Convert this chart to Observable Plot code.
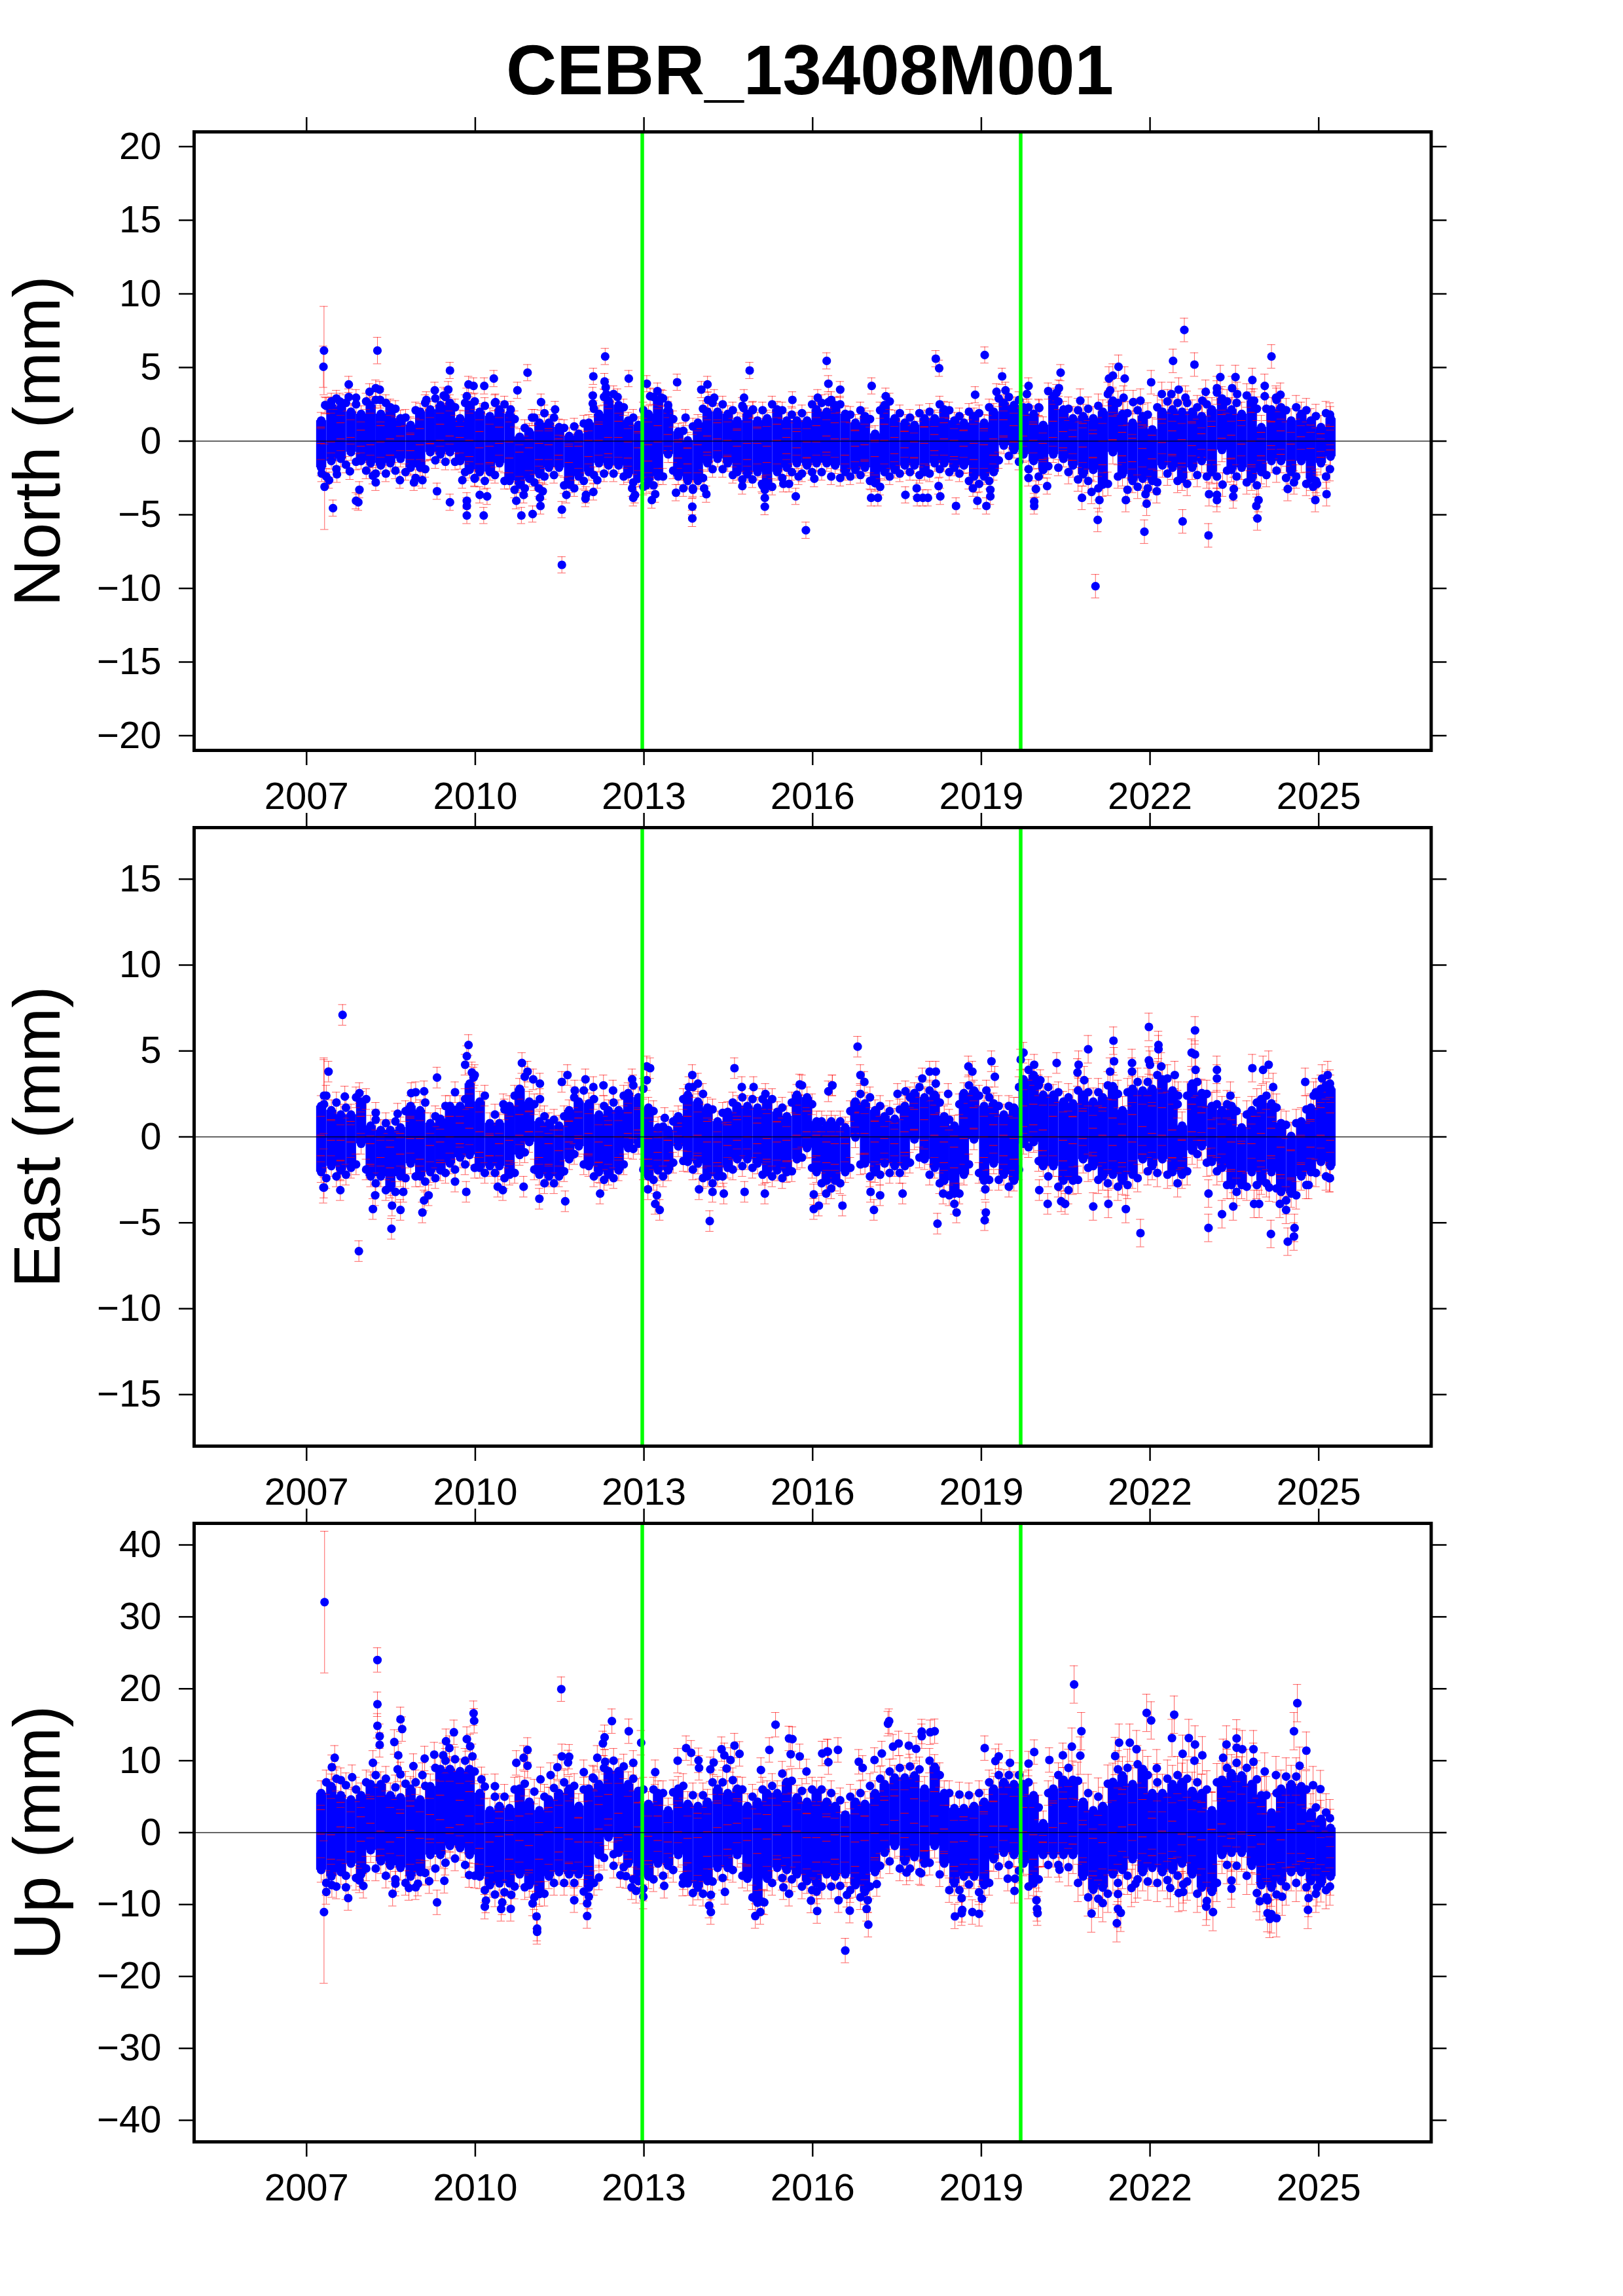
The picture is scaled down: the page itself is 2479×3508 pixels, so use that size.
<!DOCTYPE html>
<html><head><meta charset="utf-8">
<script src="https://cdn.jsdelivr.net/npm/d3@7"></script>
<script src="https://cdn.jsdelivr.net/npm/@observablehq/plot@0.6"></script>
<style>
html,body{margin:0;padding:0;background:#fff}
#page{position:relative;width:2479px;height:3508px;overflow:hidden;font-family:"Liberation Sans",Arial,sans-serif}
#title{position:absolute;left:0;width:2474px;top:45px;text-align:center;font-weight:bold;font-size:107px;color:#000}
.panel{position:absolute;left:0}
</style></head><body>
<div id="page"><div id="title">CEBR_13408M001</div></div>
<script>
const stationName="CEBR_13408M001";
const xTicks=[2007,2010,2013,2016,2019,2022,2025];
const steps=[2012.97,2019.7];
// epochs of the columns the dense cloud was read at
const epochs=[2007.26,2007.44,2007.61,2007.79,2007.97,2008.14,2008.32,2008.49,2008.67,2008.85,2009.02,2009.2,2009.38,2009.55,2009.73,2009.9,2010.08,2010.26,2010.43,2010.61,2010.79,2010.96,2011.14,2011.31,2011.49,2011.67,2011.84,2012.02,2012.2,2012.37,2012.55,2012.72,2012.9,2013.08,2013.25,2013.43,2013.61,2013.78,2013.96,2014.13,2014.31,2014.49,2014.66,2014.84,2015.02,2015.19,2015.37,2015.54,2015.72,2015.9,2016.07,2016.25,
2016.4,2016.58,2016.76,2016.93,2017.11,2017.28,2017.46,2017.64,2017.81,2017.99,2018.17,2018.34,2018.52,2018.69,2018.87,2019.05,2019.22,2019.4,2019.58,2019.75,2019.93,2020.1,2020.28,2020.46,2020.63,2020.81,2020.99,2021.16,2021.34,2021.51,2021.69,2021.87,2022.04,2022.22,2022.4,2022.57,2022.75,2022.92,2023.1,2023.28,2023.45,2023.63,2023.81,2023.98,2024.16,2024.33,2024.51,2024.69,2024.86,2025.04,2025.21];
const epochsB=[2007.35,2007.53,2007.7,2007.88,2008.06,2008.23,2008.41,2008.58,2008.76,2008.94,2009.11,2009.29,2009.47,2009.64,2009.82,2009.99,2010.17,2010.35,2010.52,2010.7,2010.88,2011.05,2011.23,2011.4,2011.58,2011.76,2011.93,2012.11,2012.29,2012.46,2012.64,2012.81,2012.99,2013.17,2013.34,2013.52,2013.7,2013.87,2014.05,2014.22,2014.4,2014.58,2014.75,2014.93,2015.11,2015.28,2015.46,2015.63,2015.81,2015.99,2016.16,2016.33,
2016.49,2016.67,2016.85,2017.02,2017.2,2017.37,2017.55,2017.73,2017.9,2018.08,2018.26,2018.43,2018.61,2018.78,2018.96,2019.14,2019.31,2019.49,2019.67,2019.84,2020.02,2020.19,2020.37,2020.55,2020.72,2020.9,2021.08,2021.25,2021.43,2021.6,2021.78,2021.96,2022.13,2022.31,2022.49,2022.66,2022.84,2023.01,2023.19,2023.37,2023.54,2023.72,2023.9,2024.07,2024.25,2024.42,2024.6,2024.78,2024.95,2025.13,2025.2];

// NORTH (mm)
const northTicks=[-20,-15,-10,-5,0,5,10,15,20];
const northHi=[1.4,2.45,2.3,2,1.85,2.45,1.85,2.3,1.55,1.1,2,2.15,2.45,2.6,1.55,2.45,2,1.7,2.15,1.85,.3,.65,1.25,1.25,.95,.35,.5,1.25,1.85,2.75,2.45,1.4,1.1,1.85,2.75,2.15,.65,.05,1.25,2,2,1.85,1.4,1.85,1.4,1.55,2.15,1.4,1.4,1.4,2.15,2,
2.45,1.85,1.25,1.7,.5,2.45,1.55,1.25,1.1,1.55,1.55,2.15,1.4,1.25,1.7,1.25,2,2.6,2.45,2.3,1.85,1.1,3.05,2.15,1.55,1.7,1.55,2,2.75,1.85,1.25,1.7,.8,2,2.15,2,2,1.7,2.15,2.9,2.15,1.85,2.75,.95,2.15,2.3,1.4,1.85,1.4,.95,1.55];
const northLo=[-1.8,-1.35,-1.2,-.75,-1.35,-1.5,-1.65,-1.5,-1.2,-1.8,-1.8,-.75,-.9,-.75,-1.35,-1.95,-2.1,-2.1,-1.5,-2.7,-2.95,-2.55,-2.25,-1.8,-1.8,-2.95,-2.4,-2.1,-1.5,-1.65,-1.65,-2.25,-2.55,-2.7,-2.4,-.9,-2.4,-2.7,-2.7,-1.5,-1.2,-1.5,-2.1,-2.25,-2.1,-2.85,-2.1,-1.8,-1.5,-1.65,-1.5,-1.5,
-1.65,-2.1,-1.95,-1.8,-2.85,-2.1,-1.95,-1.65,-1.65,-2.1,-1.5,-1.5,-1.8,-1.65,-2.4,-2.4,-2.1,-.3,-.6,-.9,-1.35,-1.95,-.9,-1.2,-1.65,-2.25,-1.95,-2.95,-.75,-2.25,-2.7,-2.55,-2.7,-1.65,-1.8,-2.55,-1.8,-1.35,-2.1,-.6,-1.95,-1.8,-2.55,-2.1,-1.35,-1.35,-2.1,-1.35,-2.55,-1.5,-1.05];
const northHiB=[2.4,2.9,2.6,2.5,2.7,2.8,2.6,2.2,1.6,2.1,2.6,2.9,3,2.3,2.6,2.7,2.4,2.6,2.5,1.5,.9,1.6,1.9,1.6,.9,1,1.2,2.2,3,3.2,2.3,1.6,2.1,3,2.9,1.5,.7,1,2.2,2.6,2.5,2.1,2.4,2.1,2.1,2.5,2.1,1.8,1.9,2.5,2.6,2.8,
2.5,1.8,2.1,1.5,2.1,2.7,1.9,1.6,1.9,2,2.5,2.1,1.7,2,1.9,2.3,2.9,3,2.8,2.3,2.3,3.4,2.7,2.2,2.1,2.2,2.4,3.2,2.6,1.9,2.1,1.8,2.3,2.7,2.6,2.6,2.3,2.5,3.3,2.7,2.6,3.1,2.2,2.2,2.8,2.1,2.3,2.1,1.7,1.9,1.8];
const northLoB=[-2.4,-1.9,-1.6,-1.4,-2,-2.2,-2.2,-2,-2.1,-2.5,-1.9,-1.3,-1.4,-1.4,-2.1,-2.5,-2.7,-2.3,-2.7,-3.3,-3.2,-2.8,-2.4,-2.3,-3,-3.2,-2.7,-2.3,-2.2,-2.2,-2.4,-2.8,-3.1,-3,-2.4,-2,-3.2,-3.3,-2.5,-1.9,-1.9,-2.3,-2.6,-2.6,-3,-3.1,-2.5,-2.1,-2.2,-2.1,-2.1,-2.4,
-2.5,-2.4,-2.3,-2.7,-3.1,-2.4,-2.2,-2.1,-2.3,-2.2,-1.9,-2.1,-2.2,-2.7,-2.9,-2.7,-1.3,-1,-1.4,-1.9,-2.4,-1.7,-1.8,-2.1,-2.6,-2.7,-3.2,-2.9,-2.4,-3.3,-3.1,-3.2,-2.8,-2.2,-2.7,-2.9,-2.3,-2.4,-2.4,-2,-2.4,-2.8,-3,-2.3,-2,-2.5,-2.4,-2.9,-2.7,-2.4,-1.9];
const northMid=[.4,-.6,.7,-.3,.2,-.8,.5,-.4,.9,-.1,.3,-.7,.6,-.2,.8,-.5,.1,-.9,.4,-.6,-.2,.1,-.7,.3,-.4,-.9,.2,-.5,.6,-.3,.8,-.6,.1,-.8,.5,-.1,-.6,-1,.3,-.2,.7,-.5,.2,-.7,.4,-.9,.6,-.3,.1,-.6,.5,-.2,
.7,-.4,.2,-.8,-.5,.6,-.3,.1,-.6,.4,-.1,.7,-.5,.2,-.7,.3,-.4,.9,.5,-.2,.6,-.7,.8,.1,-.5,.4,-.3,-.8,.9,-.2,-.6,.3,-.4,.7,-.1,-.7,.5,-.3,.2,1,-.4,.6,-.8,-.2,.5,-.1,.6,-.5,.3,-.3,.2];
const northDots=[[2007.75,3.85],[2007.75,3],[2007.88,2.95],[2008.12,3.35],[2008.23,3.6],[2008.3,3.5],[2008.31,2.8],[2007.44,2.7],[2007.33,2.45],[2007.59,2.7],[2009.28,3.45],[2009.13,2.8],[2009.52,3.5],[2009.55,4.8],[2009.44,3.1],[2009.88,3.85],[2009.97,3.75],[2010.16,3.75],[2010.33,4.25],[2009.85,3.05],[2010.75,3.45],[2010.93,4.65],[2011.17,2.65],[2011.42,2.15],[2010.36,2.65],[2010.63,2.15],[2011.01,1.6],[2012.1,4.4],[2012.09,3.1],[2012.31,5.75],[2012.3,4.05],[2012.32,3.65],[2012.33,3.2],[2012.09,2.55],[2012.53,3],[2012.73,4.25],[2013.05,3.9],[2013.24,3.4],[2013.11,3.05],[2013.31,2.95],[2013.59,4],[2013.43,2.45],[2013.74,1.6],[2014.02,3.5],[2014.13,3.85],[2014.25,2.95],[2014.14,2.8],[2014.78,2.95],[2014.88,4.8],[2014.77,2.25],[2014.94,2.15],[2015.64,2.8],[2016.09,2.95],[2016.25,5.45],[2016.28,3.9],[2016.28,2.65],
[2007.27,-2.2],[2007.4,-2.65],[2007.54,-2.25],[2007.47,-4.55],[2007.77,-2.05],[2007.94,-3.3],[2007.88,-4.05],[2007.92,-4.15],[2008.23,-2.8],[2008.18,-2.35],[2008.66,-2.65],[2008.91,-2.8],[2009.06,-2.65],[2009.32,-3.4],[2009.55,-4.15],[2009.85,-4.05],[2009.85,-4.4],[2009.85,-5.05],[2010.08,-3.65],[2010.21,-3.75],[2010.15,-5.05],[2009.77,-2.65],[2009.99,-2.55],[2010.73,-4.05],[2010.82,-5.05],[2011.02,-4.95],[2010.86,-3.65],[2011.13,-3.2],[2011.2,-3.4],[2011.16,-4.4],[2011.15,-3.85],[2011.54,-4.65],[2011.54,-8.4],[2011.62,-3.65],[2011.97,-3.65],[2011.96,-3.9],[2012.1,-3.45],[2012.17,-2.65],[2012.81,-3.85],[2012.84,-3.65],[2012.79,-3.2],[2013.04,-3],[2013.14,-4],[2013.2,-3.6],[2013.57,-3.5],[2013.87,-3.2],[2013.86,-4.45],[2013.86,-5.25],[2014.07,-3.2],[2014.11,-3.6],[2014.75,-3.05],[2015.1,-2.9],[2015.15,-3.3],[2015.15,-3.85],[2015.15,-4.45],[2015.48,-2.9],[2015.58,-2.9],[2015.7,-3.75],[2015.88,-6.05],[2015.75,-2.4],[2016.03,-2.55],
[2018.19,5.6],[2018.25,4.95],[2019.06,5.85],[2019.37,4.4],[2019.27,3.35],[2019.43,3.45],[2018.89,3.15],[2017.05,3.75],[2016.49,3.5],[2017.3,3.05],[2019.84,3.75],[2019.81,3.2],[2020.41,4.65],[2020.38,3.6],[2020.34,3.3],[2020.76,2.75],[2020.03,2.25],[2022.61,7.55],[2022.41,5.45],[2022.79,5.2],[2021.44,5.05],[2021.34,4.45],[2021.27,4.25],[2021.55,4.25],[2021.29,3.45],[2021.53,2.95],[2022.02,4],[2022.21,3.2],[2022.38,3.2],[2022.51,3.5],[2022.63,2.95],[2022.93,2.75],[2022.99,3.35],[2023.19,3.6],[2023.25,4.35],[2023.46,3.6],[2023.52,4.35],[2023.55,3.2],[2023.82,4.15],[2024.04,3.75],[2024.04,3.05],[2024.16,5.75],[2024.32,3.15],[2024.24,2.95],[2023.85,2.75],[2021.7,2.65],[2021.83,2.75],
[2017.04,-3.85],[2017.16,-3.85],[2017.65,-3.65],[2017.86,-3.85],[2017.96,-3.85],[2018.05,-3.85],[2017.85,-3.2],[2018.27,-3.75],[2018.24,-3.05],[2018.55,-4.4],[2018.93,-4.05],[2019.09,-4.4],[2019.16,-3.75],[2018.85,-3.2],[2019.16,-3.3],[2019.94,-4.4],[2019.94,-4.1],[2019.97,-3.25],[2019.84,-2.5],[2020.17,-3.05],[2020.79,-3.85],[2020.96,-3.45],[2021.1,-4],[2021.07,-5.35],[2021.03,-9.85],[2021.57,-4],[2021.92,-3.6],[2021.94,-4.25],[2021.9,-6.15],[2022.12,-3.4],[2022.58,-5.45],[2023.04,-6.4],[2023.05,-3.6],[2023.19,-4],[2023.19,-3.65],[2023.29,-2.95],[2023.48,-3.75],[2023.49,-3.25],[2023.93,-4],[2023.89,-4.4],[2023.91,-5.25],[2024.45,-3.25],[2024.56,-2.8],[2024.94,-4],[2025.14,-3.6],[2024.97,-2.9],[2024.9,-3.1]];
const northBig=[[2007.31,6.15,3],[2007.32,-3.1,2.9],[2007.3,5.05,1.4],[2008.26,6.15,.9]];

// EAST (mm)
const eastTicks=[-15,-10,-5,0,5,10,15];
const eastHi=[1.8,1.55,1.3,1.3,2.05,.65,.4,.4,.55,1.8,1.55,.8,1.05,1.8,1.8,3.1,2.05,.8,.8,1.8,2.8,2.05,.9,.8,.65,1.55,2.05,1.95,1.3,1.55,1.55,2.55,2.3,1.7,.55,.4,1.2,2.45,2.05,1.7,.9,1.45,1.8,1.8,1.7,1.95,1.45,1.2,2.45,2.3,.9,.65,
.65,.55,2.05,1.95,1.55,1.2,1.05,1.8,2.55,2.3,2.45,1.2,.65,2.55,2.7,1.8,1.95,1.3,1.7,3.35,3.6,2.45,2.45,2.05,1.95,2.45,2.05,2.3,2.95,1.55,2.8,2.7,2.8,3.35,2.7,.65,3.1,2.55,1.8,1.55,1.8,.55,1.55,2.2,1.95,.8,.05,.9,1.7,2.8,2.8];
const eastLo=[-2.05,-1.7,-1.95,-1.8,-.4,-2.3,-2.3,-2.95,-2.3,-1.55,-2.3,-2.05,-1.95,-1.55,-1.2,-1.05,-1.8,-1.7,-1.7,-2.2,-1.05,-.3,-2.2,-2.3,-2.3,-1.3,-.55,-1.7,-2.05,-2.2,-1.95,-.65,-.4,-2.3,-1.95,-1.95,-.55,-1.45,-1.55,-2.3,-2.3,-1.8,-1.3,-1.3,-1.55,-2.05,-1.95,-2.05,-1.3,-.65,-2.05,-2.55,
-2.55,-2.05,-.03,-1.55,-2.05,-1.55,-1.7,-1.7,-.15,-1.3,-1.8,-2.55,-3.3,-2.2,-.15,-2.55,-1.55,-2.2,-2.55,-.4,-.3,-1.7,-1.7,-2.55,-2.55,-1.3,-1.7,-2.3,-2.2,-2.55,-2.2,-1.3,-1.7,-1.3,-2.05,-2.2,-.8,-.55,-1.45,-1.8,-2.8,-2.8,-2.05,-2.55,-2.05,-3.2,-3.3,-2.3,-2.05,-1.45,-1.7];
const eastHiB=[2.4,2,1.7,2.3,2.2,1,.8,.9,1.5,2.6,2,1.2,1.8,2.6,2.2,3.6,2.4,1.3,1.6,2.4,3.5,1.9,1.2,1,1.2,2.3,2.7,2.2,1.8,2,2.4,3,2.8,1.5,.6,.9,2.2,2.9,2.5,1.6,1.4,2,2.3,2.2,2.2,2.2,1.7,2,3,1.9,.9,.9,
.9,1.5,2.5,2.3,1.8,1.5,1.6,2.3,2.9,2.7,2,1,1.9,3,2.4,2.3,1.8,1.8,2.9,3.9,3,2.9,2.6,2.3,2.7,2.6,2.6,3,2.5,2.6,3.2,3.2,3.6,3.4,1.9,2.4,3.2,2.5,1.9,1.9,1.5,1.3,2,2.4,1.7,.7,.8,1.6,2.6,3,3.1];
const eastLoB=[-2.4,-2.3,-2.2,-1.6,-1.9,-2.7,-3.1,-3.2,-2.4,-2.3,-2.6,-2.4,-2.1,-1.9,-1.6,-1.8,-2.1,-2.1,-2.4,-2.1,-.9,-1.9,-2.7,-2.7,-2,-1,-1.6,-2.3,-2.5,-2.4,-1.6,-.7,-1.9,-2.5,-2.3,-1.5,-1.4,-1.9,-2.4,-2.7,-2.3,-1.9,-1.7,-1.8,-2.2,-2.3,-2.4,-2,-1.2,-1.8,-2.7,-3,
-2.7,-1.8,-1.6,-2.3,-2.2,-2.1,-2.1,-1.5,-1.2,-2.2,-2.7,-3.4,-3.3,-1.6,-2.1,-2.5,-2.5,-2.9,-1.9,-.6,-1.4,-2.3,-2.9,-3.1,-2.5,-1.8,-2.5,-2.7,-2.9,-2.8,-2.4,-2,-2.1,-2.2,-2.7,-2,-1,-1.5,-2,-2.8,-3.2,-2.9,-2.8,-2.7,-3,-3.7,-3.4,-2.8,-2.1,-2.3,-2.4];
const eastMid=[-.5,.4,-.8,.3,.6,-1,-.6,-1.2,-.4,.5,-.7,.1,-.9,.6,.2,1.1,-.3,-.5,.2,-.8,.7,.9,-.6,-1,-.2,.3,.5,-.4,-.9,.1,-.6,.8,1,-.7,-.3,-.8,.2,.6,-.5,.3,-.9,.1,.4,-.6,.2,-.7,.3,-.8,.7,.9,-.5,-.9,
-1,.2,.8,-.4,.3,-.7,.2,-.3,1,.4,.7,-.9,-1.2,.5,1.1,-.6,.1,-.5,-.7,1.2,1.3,-.2,.6,-.8,.4,.7,-.3,.9,.3,-.7,.5,-.2,1,.9,-.4,-1,1.1,.6,-.3,-.8,-1.1,-1.2,.4,-.6,-.3,-1.4,-1.6,-.8,.2,.9,.6];
const eastDots=[[2007.64,7.1],[2007.39,3.8],[2009.88,5.35],[2009.85,4.7],[2009.82,4.2],[2009.97,3.45],[2009.94,3.75],[2010.83,4.3],[2010.93,3.8],[2011.03,3.35],[2011.15,3.1],[2011.15,2.2],[2009.32,3.45],[2009.09,2.65],[2008.86,2.55],[2011.64,3.6],[2011.54,3.2],[2011.96,3.35],[2011.77,2.7],[2012.1,2.9],[2012.28,3],[2012.45,2.7],[2012.79,3.35],[2013.05,4.1],[2013.11,4],[2013.05,3.3],[2013.86,3.6],[2013.96,3.1],[2014.61,4],[2014.74,2.9],[2014.95,2.9],[2015.77,3.05],[2016.28,2.65],[2016.35,3],[2010.5,1.9],[2007.94,2.55],[2007.68,2.35],[2013.8,2.9],[2015.16,2.5],[2013.37,1.1],[2008.23,1.4],[2008.62,1.35],
[2007.93,-6.65],[2008.18,-4.2],[2008.51,-5.35],[2008.52,-4],[2008.67,-4.25],[2009.06,-4.4],[2008.72,-3.2],[2008.22,-3.4],[2009.17,-3.4],[2009.09,-3.7],[2009.64,-2.6],[2009.84,-3.2],[2010.4,-2.9],[2010.49,-3.1],[2010.86,-2.9],[2011.14,-3.6],[2011.6,-3.75],[2012.22,-3.3],[2007.31,-2.95],[2007.6,-3.1],[2014.17,-4.9],[2013.28,-4.25],[2013.2,-3.9],[2013.23,-3.4],[2014.22,-3.2],[2014.42,-3.3],[2014.79,-3.2],[2015.15,-3.3],[2013.98,-3.05],[2016.02,-4.2],[2016.02,-3.35],[2016.11,-4],[2016.24,-3.3],[2013.07,-3.05],
[2016.8,5.25],[2016.85,3.6],[2016.35,3],[2016.92,3.2],[2017.95,3.4],[2018.08,3.8],[2018.19,3.8],[2018.19,3.1],[2017.51,2.5],[2017.65,2.65],[2018.41,2.5],[2018.77,4.1],[2018.84,3.8],[2019.18,4.4],[2019.24,3.5],[2019.09,2.7],[2019.75,4.9],[2019.7,4.5],[2019.94,4.2],[2020.05,3.3],[2020.34,4.3],[2020.73,4.2],[2020.71,3.75],[2020.83,3.3],[2020.9,5.1],[2021.35,5.6],[2021.36,4.4],[2021.29,3.8],[2021.68,4.3],[2021.68,3.8],[2021.98,6.4],[2022.15,5.35],[2022.15,5.1],[2021.98,4.45],[2022,4.2],[2022.2,4.1],[2022.44,3.6],[2022.8,6.2],[2022.74,4.9],[2022.8,4.8],[2022.81,3.9],[2023.19,3.9],[2023.19,3.4],[2022.5,2.4],[2023.43,2.4],[2023.82,4],[2024.01,3.9],[2024.11,4.2],[2024.19,2.9],[2025.16,3.6],[2025.06,3.4],[2024.76,3.2],[2024.91,2.4],
[2016.53,-4],[2017.09,-4.25],[2017.03,-3.2],[2017.2,-3.4],[2017.6,-3.3],[2018.22,-5.05],[2018.56,-4.4],[2018.52,-3.9],[2019.08,-4.4],[2019.06,-4.85],[2019.07,-3.05],[2018.32,-3.3],[2020.03,-3.1],[2020.18,-3.9],[2020.42,-3.75],[2020.49,-3.9],[2020.99,-4.05],[2021.26,-3.9],[2021.57,-4.2],[2021.83,-5.6],[2023.04,-3.3],[2023.04,-5.3],[2023.28,-4.5],[2023.48,-4.05],[2023.85,-3.9],[2023.94,-3.9],[2024.15,-5.65],[2024.45,-6.1],[2024.56,-5.8],[2024.57,-5.3],[2024.42,-4.25],[2024.31,-3.9],[2024.12,-2.95],[2025.19,-2.4],[2024.82,-2.8]];
const eastBig=[[2007.31,2.4,2.2],[2007.31,1.9,2.6],[2007.3,-2.95,.9]];

// UP (mm)
const upTicks=[-40,-30,-20,-10,0,10,20,30,40];
const upHi=[5.5,6.45,5.2,4.6,5.2,6.75,6.75,5.2,4.9,6.1,4.6,6.45,8.85,8.85,8.55,8.85,5.5,3.1,3.7,3.4,6.1,4.3,3.1,4.6,5.5,6.1,3.7,6.1,6.75,8.55,8.55,6.75,5.8,4,5.5,3.1,6.1,4,3.7,4.3,6.1,5.5,6.1,3.7,4.3,5.5,5.5,7.05,4.9,4.3,5.5,4.3,
3.7,2.5,4.3,4,5.5,6.75,7.65,7.65,7.95,6.1,9.15,5.5,3.4,3.4,3.7,4.3,6.1,7.05,6.75,6.75,5.2,1.3,6.1,7.35,7.35,4.3,3.1,3.7,7.05,7.95,6.75,8.85,5.5,5.5,6.75,7.05,5.8,5.5,3.1,7.35,8.25,7.95,6.75,5.2,2.8,6.1,6.75,6.45,2.8,1.9,.65];
const upLo=[-5.2,-6.1,-5.5,-4.3,-5.8,-2.45,-4,-4.6,-4.9,-6.1,-5.5,-3.1,-3.1,-1.85,-2.15,-3.1,-6.1,-7.3,-7.05,-7.05,-5.8,-7.3,-8.55,-6.1,-5.5,-5.8,-5.8,-7.65,-3.1,-.65,-2.8,-4.3,-6.75,-6.1,-4.3,-4.6,-3.1,-7.05,-7.65,-6.75,-4.9,-4.9,-3.1,-6.4,-9.75,-6.4,-4.9,-5.2,-5.8,-6.75,-7.05,-5.8,
-6.1,-5.8,-7.3,-8.25,-5.5,-2.8,-1.85,-4,-3.4,-4.3,-1.85,-4.3,-7.05,-6.1,-6.1,-7.3,-3.7,-2.8,-3.1,-4.3,-7.05,-3.1,-3.1,-3.1,-3.1,-6.1,-7.95,-7.65,-5.8,-5.2,-3.7,-5.5,-4.9,-5.5,-5.2,-4.3,-5.8,-7.65,-8.25,-3.1,-2.8,-2.8,-4.6,-7.3,-7.65,-6.75,-5.5,-5.5,-6.75,-7.05,-6.1];
const upHiB=[7,7.5,6.6,6,7,8,7.5,6.3,6.8,7,6.5,9,10,10.2,10,8.5,6.4,5,5,6,6.8,5.7,5,6.2,7,6.5,6,7.5,9,10,9.2,7.5,6,6,5.5,5.6,6.5,5.2,5.2,7,7,7.3,6,5,6,6.5,8.2,7.2,5.8,6,6,5.5,
4.5,5,5.5,6.5,7.5,8.5,9,9.2,8.8,10,8,5.5,5.3,5.2,5.5,7,8,8,8,7,3.5,5.5,8,9,7.2,5.5,5,6.8,8.8,9,9.5,8,7,7.5,8,7.5,7,6,7,9,9.7,9,7.4,5.2,5.5,7.8,7.8,6,3.5,2.8,2];
const upLoB=[-7,-7.5,-6,-6.3,-5,-5,-6,-6.5,-7,-7.6,-5.6,-5,-4.2,-3.6,-4.5,-6,-8,-8.6,-8.3,-7.5,-7.6,-9,-8.5,-7,-7,-7,-8.2,-7,-3.5,-3,-4.8,-6.5,-7.8,-6.5,-6,-5.2,-6.2,-8.4,-8.5,-6.8,-6.3,-5.2,-6,-9,-9.6,-7,-6.3,-6.5,-7.5,-8,-7.5,-7.5,
-7.4,-8,-9,-7.5,-4.6,-4,-5,-5,-5.5,-4.2,-5.8,-8,-8,-7.2,-8.3,-7,-4.7,-4.5,-5.3,-7.5,-6.5,-4.5,-4.5,-4.8,-7,-9,-9.2,-8.5,-7,-6,-6.5,-6.8,-7,-6.6,-6,-6.8,-8.5,-9.5,-7,-4.5,-4.6,-6,-8.4,-9,-8.6,-7.5,-7,-7.6,-8.5,-8,-7.5];
const upMid=[1.5,-2,2.5,-1,.5,3,-1.5,-3,1,2,-2.5,.8,3.5,-1,2.8,4,-.5,-3,1.2,-2,.6,-3.5,-2,1.8,-1,-2.6,.4,-3,2.2,3.6,1,-2,2.5,-2.2,.6,-3,1.8,-2.5,1,-1.6,2.4,-.6,3,-2.8,-1.2,.8,-2,2.6,-1.5,1,-2.4,.5,
-2,1.2,-3,.6,-1.8,2.8,3.4,1,3,-.8,4,-1.2,-3,.5,-2,1.2,2.6,-.8,-1.2,1.8,-2,-3,2.4,3,1,-1.5,-3.4,1.2,-2.6,3.4,-1.5,2,-.6,2.8,-1,-2.8,-3.2,1.6,3,-1.4,1.8,-2.5,-3,1,-1.8,1.6,-2.2,-1.4,-1];
const upDots=[[2008.26,24],[2008.26,17.85],[2008.26,14.85],[2008.3,13.4],[2008.3,12.2],[2008.67,15.75],[2008.7,14.4],[2008.56,12.6],[2008.63,10.75],[2008.62,8.8],[2008.67,8.1],[2007.5,10.4],[2007.45,9.1],[2007.81,7.7],[2007.61,7.3],[2008.18,9.7],[2008.9,9.25],[2009.1,10.3],[2009.06,8],[2009.27,10.85],[2009.43,10.75],[2009.48,12.7],[2009.54,11.75],[2009.62,13.95],[2009.85,13],[2009.91,12],[2009.97,16.6],[2009.98,15.55],[2009.95,10.6],[2010.11,7.4],[2010.35,6.45],[2010.73,9.7],[2010.86,10.4],[2010.93,11.5],[2010.93,9.3],[2011.16,7.4],[2011.34,8],[2011.46,9.1],[2011.54,10.6],[2011.53,19.95],[2011.67,10.55],[2011.65,9.75],[2011.93,8.4],[2012.17,10.4],[2012.09,7.65],[2012.3,13.25],[2012.27,12.4],[2012.43,15.5],[2012.73,14.1],[2012.95,12.5],[2012.81,9.7],[2012.31,9.85],[2013.2,8.4],[2013.6,10],[2013.75,11.75],[2013.84,11.1],[2013.97,10.05],[2013.98,9],[2014.18,8.8],[2014.24,9.75],[2014.38,11.6],[2014.43,10.75],[2014.61,12.1],[2014.54,10.1],[2014.7,10.95],[2014.47,8.9],[2015.23,11.5],[2015.34,15],[2015.58,13.1],[2015.64,13],[2015.61,10.9],[2015.77,10.6],[2016.17,11],[2016.26,11.3],[2016.28,9.8],[2015.08,8.7],[2015.89,8.5],
[2007.35,-8.25],[2007.45,-7.3],[2007.7,-7.6],[2007.74,-9.1],[2008.01,-7.4],[2007.94,-6.65],[2008.53,-8.5],[2008.58,-7.1],[2008.82,-7.7],[2008.98,-7.1],[2009.18,-6.75],[2009.32,-9.7],[2009.45,-6.7],[2009.89,-5.9],[2010.17,-10.3],[2010.19,-9.45],[2010.46,-10.6],[2010.48,-9.7],[2010.63,-10.6],[2010.64,-8.65],[2011.02,-9.85],[2011.09,-11.65],[2011.1,-13.35],[2011.1,-13.8],[2011.76,-9.4],[2011.99,-11.6],[2011.99,-9.85],[2012.02,-8.9],[2012.2,-6.25],[2012.46,-4.6],[2012.58,-5.9],[2012.68,-6.05],[2012.78,-7.6],[2012.99,-8.9],[2012.86,-8.1],[2013.36,-7.4],[2013.69,-7.1],[2014.16,-10.15],[2014.19,-11.05],[2014.19,-8.65],[2014.44,-8.25],[2014.98,-11.6],[2015.07,-11.05],[2015.14,-9.7],[2015.48,-7.6],[2015.58,-8.5],[2015.97,-9.45],[2016.08,-10.9],[2016.07,-8.2],
[2020.65,20.6],[2021.94,16.65],[2022.02,15.6],[2022.43,16.4],[2024.62,18],[2024.56,14.1],[2024.78,11.4],[2017.34,15.15],[2017.36,15.5],[2017.94,14.05],[2017.94,13.4],[2018.09,13.95],[2018.17,14.1],[2017.53,12.4],[2017.71,12.1],[2017.84,11.65],[2017.43,11.95],[2017.1,10.1],[2017.23,11],[2016.82,9.85],[2016.45,11.5],[2016.27,11.25],[2016.89,9],[2019.06,11.75],[2019.31,10.6],[2019.25,9.95],[2019.51,9.7],[2019.94,11.2],[2019.84,9.6],[2020.21,10.1],[2020.45,10.75],[2020.61,11.95],[2020.78,14.1],[2020.76,10.7],[2021.38,10.65],[2021.45,12.5],[2021.64,12.5],[2021.76,11.6],[2022.12,8.95],[2022.39,13.15],[2022.58,10.95],[2022.69,13.15],[2022.8,12.25],[2022.93,10.75],[2022.79,10],[2023.36,12.25],[2023.54,13.1],[2023.54,11.8],[2023.64,11.6],[2023.84,11.6],[2023.3,10.4],[2023.84,9.85],[2024.04,8.5],[2024.24,8],[2024.66,9.3],[2024.9,6.6],[2025.03,6.05],
[2016.58,-16.4],[2016.99,-12.8],[2016.66,-10.85],[2016.46,-9.4],[2016.61,-8.65],[2016.96,-10.6],[2016.98,-9.4],[2017.14,-7.15],[2017.67,-5.55],[2017.93,-5.65],[2018.53,-11.65],[2018.65,-9.1],[2018.66,-10.75],[2018.65,-11.2],[2018.84,-11.05],[2018.96,-11.3],[2019.01,-9.2],[2019.47,-6.4],[2019.6,-6.4],[2019.59,-8.1],[2019.98,-9.4],[2020,-11.2],[2019.99,-10.6],[2020.39,-5.15],[2020.96,-11.25],[2021.16,-9.8],[2021.41,-12.6],[2021.43,-10.6],[2021.48,-11.15],[2021.43,-8.55],[2021.67,-7.7],[2021.74,-7.1],[2022.36,-7.7],[2022.51,-8.4],[2022.59,-8.25],[2022.59,-7.2],[2023,-10.3],[2023.12,-11.05],[2023.45,-6.65],[2023.45,-7.8],[2023.95,-9.55],[2024.09,-9.4],[2024.09,-11.2],[2024.13,-12],[2024.25,-11.9],[2024.16,-11.35],[2024.35,-8.9],[2024.82,-9.1],[2024.81,-10.75],[2024.97,-7.6]];
const upBig=[[2007.32,32.05,9.85],[2007.31,-11.05,9.9]];

const panels=[
 {label:"North (mm)",top:171,dom:21,ticks:northTicks,hi:northHi,lo:northLo,hiB:northHiB,loB:northLoB,mid:northMid,dots:northDots,big:northBig,err:[.55,.8]},
 {label:"East (mm)",top:1234,dom:18,ticks:eastTicks,hi:eastHi,lo:eastLo,hiB:eastHiB,loB:eastLoB,mid:eastMid,dots:eastDots,big:eastBig,err:[.6,.8]},
 {label:"Up (mm)",top:2297,dom:43,ticks:upTicks,hi:upHi,lo:upLo,hiB:upHiB,loB:upLoB,mid:upMid,dots:upDots,big:upBig,err:[1.7,2.6]}
];
const font="Liberation Sans";
const capHalfWidth=.073, noisyFrom=2020.5;
const fmt=d3.format("d");

function capMarks(rows,opacity){
  const o={stroke:"#ff0000",strokeOpacity:opacity,strokeWidth:1};
  return [
    Plot.ruleY(rows,{y:d=>d.v+d.e,x1:d=>d.t-capHalfWidth,x2:d=>d.t+capHalfWidth,...o}),
    Plot.ruleY(rows,{y:d=>d.v-d.e,x1:d=>d.t-capHalfWidth,x2:d=>d.t+capHalfWidth,...o})
  ];
}

for(const p of panels){
  const errAt=t=>t<noisyFrom?p.err[0]:p.err[1];
  const band=epochs.map((t,i)=>({t,hi:p.hi[i],lo:p.lo[i],mid:p.mid[i]})).filter(d=>d.hi!==undefined&&d.lo!==undefined);
  const rim=band.flatMap(d=>[{t:d.t,v:d.hi},{t:d.t,v:d.lo}]);
  const rimB=epochsB.flatMap((t,i)=>[{t,v:p.hiB[i]},{t,v:p.loB[i]}]).filter(d=>d.v!==undefined);
  const inner=band.filter(d=>d.mid!==undefined).map(d=>({t:d.t,v:d.mid,e:errAt(d.t)}));
  const extra=p.dots.map(([t,v])=>({t,v}));
  const big=p.big.map(([t,v,e])=>({t,v,e}));
  const outer=[...rim,...rimB,...extra].map(d=>({...d,e:errAt(d.t)})).concat(big);
  const chart=Plot.plot({
    width:2479,height:1075,marginLeft:296,marginRight:293.5,marginTop:30,marginBottom:100,
    style:{background:"transparent",fontFamily:font},
    x:{domain:[2005,2027],label:null},
    y:{domain:[-p.dom,p.dom],label:null},
    marks:[
      // whiskers of the rim and outlier dots, under the dense core
      Plot.ruleX(outer,{x:"t",y1:d=>d.v-d.e,y2:d=>d.v+d.e,stroke:"#ff0000",strokeOpacity:.62,strokeWidth:1}),
      Plot.ruleX(band,{x:"t",y1:"lo",y2:"hi",stroke:"#0000ff",strokeWidth:15.5}),
      capMarks(outer,.62),
      capMarks(inner,.95),
      Plot.dot([...rim,...rimB,...extra,...big],{x:"t",y:"v",r:6.6,fill:"#0000ff",stroke:"none"}),
      Plot.ruleX(steps,{stroke:"#00ff00",strokeWidth:5.5}),
      Plot.ruleY([0],{stroke:"#000",strokeWidth:1.6,strokeOpacity:.8}),
      Plot.axisX({anchor:"bottom",ticks:xTicks,tickSize:23,tickPadding:25,fontSize:58,strokeWidth:2.5,tickFormat:fmt,label:null}),
      Plot.axisX({anchor:"top",ticks:xTicks,tickSize:23,strokeWidth:2.5,fill:"none",label:null}),
      Plot.axisY({anchor:"left",ticks:p.ticks,tickSize:23,tickPadding:27,fontSize:58,strokeWidth:2.5,tickFormat:fmt,label:null}),
      Plot.axisY({anchor:"right",ticks:p.ticks,tickSize:23,strokeWidth:2.5,fill:"none",label:null}),
      Plot.text([p.label],{frameAnchor:"left",textAnchor:"middle",dx:-238,rotate:-90,fontSize:100,fill:"#000"}),
      Plot.frame({stroke:"#000",strokeWidth:5})
    ]
  });
  chart.classList.add("panel");
  chart.style.top=p.top+"px";
  chart.style.position="absolute";
  chart.style.left="0";
  chart.style.overflow="visible";
  document.getElementById("page").appendChild(chart);
}
</script>
</body></html>
